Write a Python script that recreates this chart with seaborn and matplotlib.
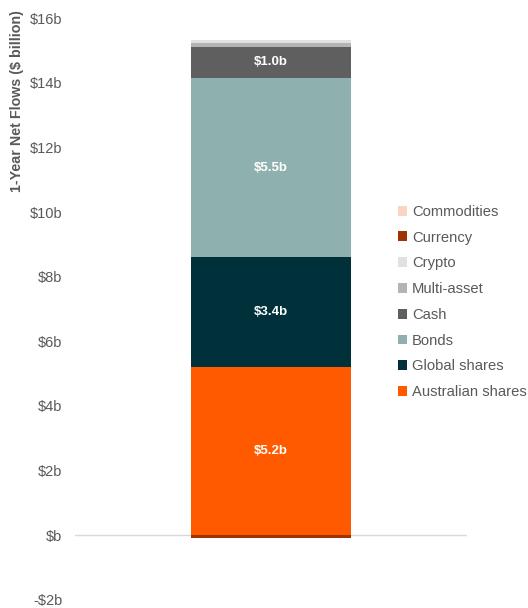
import matplotlib
matplotlib.use("Agg")
import matplotlib.pyplot as plt
import seaborn as sns
import numpy as np
import pandas as pd

# asset classes in stacking order (bottom to top)
asset_classes = ["Australian shares", "Global shares", "Bonds", "Cash",
                 "Multi-asset", "Crypto", "Currency", "Commodities"]
flows_bn = [5.2, 3.4, 5.55, 0.96, 0.13, 0.08, -0.07, 0.0]
colours = ["#FF5A00", "#00303A", "#8EB0AE", "#5F5F5F",
           "#B4B4B4", "#E1E1E1", "#9C3300", "#FCD5C2"]
label_min = 0.9  # only label segments bigger than this

yticks = np.arange(-2, 18, 2)
yticklabels = [f"-${abs(v)}b" if v < 0 else ("$b" if v == 0 else f"${v}b") for v in yticks]

sns.set_style("white")
plt.rcParams["font.family"] = ["Liberation Sans", "DejaVu Sans"]
grey = "#595959"

df = pd.DataFrame({"asset": asset_classes, "flow": flows_bn, "colour": colours})
# stack positives up from zero, negatives down from zero
pos = df["flow"].clip(lower=0)
neg = df["flow"].clip(upper=0)
df["bottom"] = np.where(df["flow"] >= 0, pos.cumsum() - pos, neg.cumsum() - neg)

fig = plt.figure(figsize=(5.28, 6.08), dpi=100)
ax = fig.add_axes([75 / 528, 8 / 608, 392 / 528, 582 / 608])

for _, row in df.iterrows():
    sns.barplot(x=[0], y=[row["flow"]], bottom=row["bottom"], color=row["colour"],
                width=0.406, label=row["asset"], ax=ax, saturation=1,
                native_scale=True, linewidth=0)
    if abs(row["flow"]) > label_min:
        ax.text(0, row["bottom"] + row["flow"] / 2, f"${row['flow']:.1f}b",
                ha="center", va="center", color="white", fontsize=9.5,
                fontweight="bold")

ax.axhline(0, color="#D9D9D9", lw=1, zorder=0.5)
ax.set_xlim(-0.5, 0.5)
ax.set_ylim(-2, 16)
ax.set_yticks(yticks)
ax.set_yticklabels(yticklabels, color=grey, fontsize=10.5)
ax.set_xticks([])
ax.tick_params(axis="y", length=0, pad=9)
ax.set_xlabel("")
ax.set_ylabel("")
sns.despine(ax=ax, left=True, bottom=True)

fig.text(17 / 528, 1 - 10 / 608, "1-Year Net Flows ($ billion)", rotation=90,
         ha="center", va="top", color=grey, fontsize=10.3, fontweight="bold")

handles, labels = ax.get_legend_handles_labels()
ax.legend(handles[::-1], labels[::-1], loc="center left",
          bbox_to_anchor=(392 / 528, 1 - 302 / 608), bbox_transform=fig.transFigure,
          frameon=False, fontsize=10.6, labelcolor=grey, handlelength=0.65,
          handleheight=0.65, handletextpad=0.3, labelspacing=0.8, borderaxespad=0)

fig.savefig("out.png", dpi=100)
